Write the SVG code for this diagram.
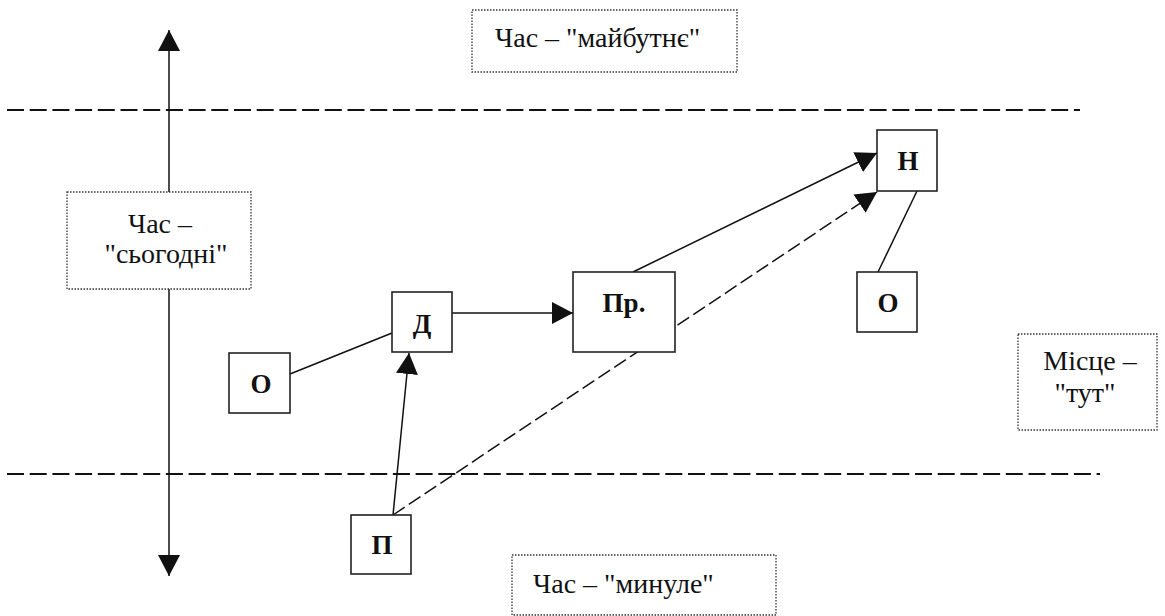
<svg xmlns="http://www.w3.org/2000/svg" width="1165" height="616" viewBox="0 0 1165 616">
<style>
.lbl{font-family:"Liberation Serif","Times New Roman",serif;font-size:28px;fill:#111}
.nl{font-family:"Liberation Serif","Times New Roman",serif;font-size:27px;font-weight:bold;fill:#111;text-anchor:middle}
.mid{text-anchor:middle}
.dot{fill:#fff;stroke:#333;stroke-width:1.3;stroke-dasharray:1.5 1.5}
.node{fill:#fff;stroke:#222;stroke-width:1.6}
.ln{stroke:#111;stroke-width:1.5;fill:none}
.hd{stroke:#111;stroke-width:2;stroke-dasharray:17 5.7;fill:none}
</style>
<defs>
<marker id="ah" viewBox="0 0 21 22" refX="21" refY="11" markerWidth="21" markerHeight="22" markerUnits="userSpaceOnUse" orient="auto">
<path d="M0,0 L21,11 L0,22 z" fill="#111"/>
</marker>
</defs>
<g id="connectors">
<line class="hd" x1="7" y1="110" x2="1080" y2="110"/>
<line class="hd" x1="7" y1="474" x2="1100" y2="474"/>
<line class="ln" x1="169" y1="300" x2="169" y2="30" marker-end="url(#ah)"/>
<line class="ln" x1="169" y1="300" x2="169" y2="576" marker-end="url(#ah)"/>
<line class="ln" x1="290" y1="374" x2="392" y2="333"/>
<line class="ln" x1="452" y1="313" x2="573" y2="313" marker-end="url(#ah)"/>
<line class="ln" x1="633" y1="272" x2="877" y2="153" marker-end="url(#ah)"/>
<line class="ln" x1="393" y1="515" x2="409" y2="353" marker-end="url(#ah)"/>
<line class="ln" x1="393" y1="515" x2="877" y2="192" stroke-width="1.8" stroke-dasharray="14 5" marker-end="url(#ah)"/>
<line class="ln" x1="917" y1="191" x2="878" y2="272"/>
</g>
<g id="label-future">
<rect class="dot" x="472" y="10" width="265" height="62"/>
<text class="lbl" x="495" y="47">Час – "майбутнє"</text>
</g>
<g id="label-today">
<rect class="dot" x="67" y="192" width="184" height="97"/>
<text class="lbl mid" x="160" y="233">Час –</text>
<text class="lbl mid" x="166" y="263">"сьогодні"</text>
</g>
<g id="label-place">
<rect class="dot" x="1018" y="334" width="139" height="96"/>
<text class="lbl mid" x="1090" y="370">Місце –</text>
<text class="lbl mid" x="1085" y="402">"тут"</text>
</g>
<g id="label-past">
<rect class="dot" x="512" y="555" width="264" height="60"/>
<text class="lbl" x="533" y="593">Час – "минуле"</text>
</g>
<g id="node-O1">
<rect class="node" x="229" y="353" width="61" height="60"/>
<text class="nl" x="261" y="393">О</text>
</g>
<g id="node-D">
<rect class="node" x="392" y="292" width="60" height="60"/>
<text class="nl" x="422" y="333">Д</text>
</g>
<g id="node-Pr">
<rect class="node" x="573" y="272" width="102" height="80"/>
<text class="nl" x="624" y="312">Пр.</text>
</g>
<g id="node-N">
<rect class="node" x="877" y="130" width="60" height="61"/>
<text class="nl" x="908" y="170">Н</text>
</g>
<g id="node-O2">
<rect class="node" x="857" y="272" width="60" height="60"/>
<text class="nl" x="888" y="312">О</text>
</g>
<g id="node-P">
<rect class="node" x="351" y="515" width="60" height="59"/>
<text class="nl" x="382" y="554">П</text>
</g>
</svg>
